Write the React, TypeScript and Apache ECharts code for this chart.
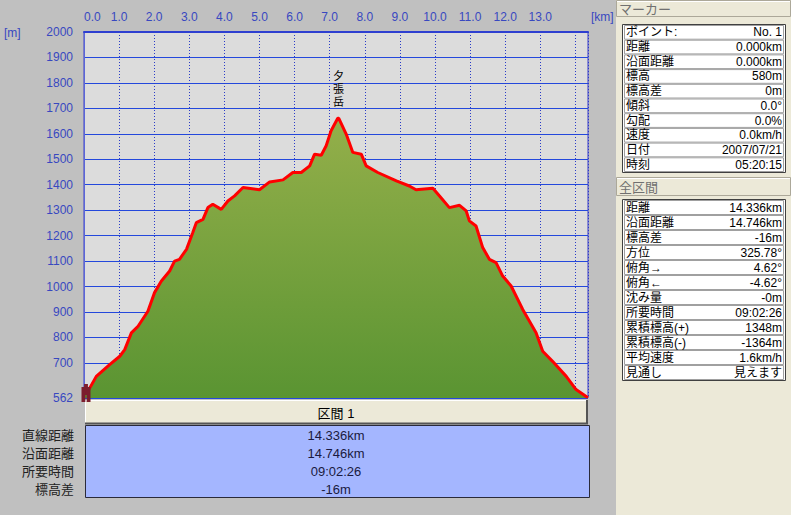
import React, { useEffect, useRef } from 'react';
import * as echarts from 'echarts';

// ---- data ----
const distKm = [0, 0.11, 0.35, 0.73, 1.02, 1.16, 1.35, 1.54, 1.82, 2.01, 2.2, 2.44, 2.58, 2.72, 2.92, 3.1, 3.2, 3.39, 3.53, 3.67, 3.91, 4.1, 4.29, 4.53, 5.0, 5.29, 5.67, 5.95, 6.19, 6.43, 6.57, 6.76, 6.9, 7.04, 7.23, 7.26, 7.47, 7.66, 7.9, 8.04, 8.37, 8.9, 9.27, 9.46, 9.94, 10.13, 10.41, 10.7, 10.89, 10.98, 11.17, 11.36, 11.55, 11.74, 11.93, 12.17, 12.5, 12.88, 13.07, 13.35, 13.74, 14.02, 14.31, 14.36];
const elevM = [580, 588, 647, 693, 726, 752, 818, 844, 903, 976, 1021, 1061, 1100, 1107, 1146, 1212, 1251, 1264, 1310, 1323, 1303, 1336, 1356, 1389, 1380, 1411, 1419, 1448, 1448, 1474, 1520, 1516, 1553, 1612, 1661, 1661, 1599, 1527, 1520, 1474, 1448, 1415, 1395, 1380, 1386, 1356, 1310, 1319, 1297, 1258, 1238, 1153, 1107, 1094, 1041, 1002, 910, 818, 746, 706, 647, 595, 568, 564];
const yTickValues = [562, 700, 800, 900, 1000, 1100, 1200, 1300, 1400, 1500, 1600, 1700, 1800, 1900, 2000];
const xMin = 0;
const xMax = 14.36;
const yMin = 562;
const yMax = 2000;
const xUnit = '[km]';
const yUnit = '[m]';
const peakName = '夕張岳';
const peakKm = 7.25;
const peakElev = 1661;

const markerTitle = 'マーカー';
const markerLabels = ['ポイント:', '距離', '沿面距離', '標高', '標高差', '傾斜', '勾配', '速度', '日付', '時刻'];
const markerValues = ['No. 1', '0.000km', '0.000km', '580m', '0m', '0.0°', '0.0%', '0.0km/h', '2007/07/21', '05:20:15'];

const totalTitle = '全区間';
const totalLabels = ['距離', '沿面距離', '標高差', '方位', '俯角→', '俯角←', '沈み量', '所要時間', '累積標高(+)', '累積標高(-)', '平均速度', '見通し'];
const totalValues = ['14.336km', '14.746km', '-16m', '325.78°', '4.62°', '-4.62°', '-0m', '09:02:26', '1348m', '-1364m', '1.6km/h', '見えます'];

const sectionTitle = '区間 1';
const sectionLabels = ['直線距離', '沿面距離', '所要時間', '標高差'];
const sectionValues = ['14.336km', '14.746km', '09:02:26', '-16m'];

const FONT = "'Liberation Sans', 'Noto Sans CJK JP', sans-serif";

function buildGraphic() {
  const g: any[] = [];
  // right panel background
  g.push({ type: 'rect', shape: { x: 616, y: 0, width: 175, height: 515 }, style: { fill: '#ece9d8' }, z: 1 });

  const tab = (y: number, h: number, title: string) => {
    g.push({ type: 'rect', shape: { x: 616.5, y: y + 0.5, width: 174, height: h }, style: { fill: '#ece9d8', stroke: '#aca899', lineWidth: 1 }, z: 2 });
    g.push({ type: 'line', shape: { x1: 617, y1: y + 1.5, x2: 790, y2: y + 1.5 }, style: { stroke: '#ffffff', lineWidth: 1 }, z: 3 });
    g.push({ type: 'text', x: 619, y: y + h / 2 + 1, style: { text: title, fill: '#707070', font: `13px ${FONT}`, verticalAlign: 'middle', align: 'left' }, z: 4 });
  };

  const table = (y0: number, rowH: number, labels: string[], values: string[]) => {
    const h = rowH * labels.length;
    g.push({ type: 'rect', shape: { x: 622.5, y: y0 + 0.5, width: 163, height: h + 1 }, style: { fill: '#ffffff', stroke: '#404040', lineWidth: 1 }, z: 2 });
    labels.forEach((lab, i) => {
      const y = y0 + i * rowH;
      g.push({ type: 'rect', shape: { x: 624.5, y: y + 1.5, width: 159, height: rowH - 1 }, style: { fill: '#ffffff', stroke: '#a0a0a0', lineWidth: 1 }, z: 3 });
      g.push({ type: 'text', x: 626, y: y + rowH / 2 + 1, style: { text: lab, fill: '#000000', font: `12px ${FONT}`, verticalAlign: 'middle', align: 'left', lineHeight: 12 }, z: 4 });
      g.push({ type: 'text', x: 782, y: y + rowH / 2 + 1, style: { text: values[i], fill: '#000000', font: `12px ${FONT}`, verticalAlign: 'middle', align: 'right', lineHeight: 12 }, z: 4 });
    });
  };

  tab(0, 16, markerTitle);
  table(24, 14.7, markerLabels, markerValues);
  tab(177, 18, totalTitle);
  table(199, 15, totalLabels, totalValues);

  // units
  g.push({ type: 'text', x: 4, y: 33, style: { text: yUnit, fill: '#3848c0', font: `12px ${FONT}`, verticalAlign: 'middle', align: 'left' }, z: 4 });
  g.push({ type: 'text', x: 591, y: 17, style: { text: xUnit, fill: '#3848c0', font: `12px ${FONT}`, verticalAlign: 'middle', align: 'left' }, z: 4 });

  // bottom section header
  g.push({ type: 'rect', shape: { x: 85, y: 400, width: 502, height: 24 }, style: { fill: '#ece9d8' }, z: 2 });
  g.push({ type: 'line', shape: { x1: 85, y1: 400.5, x2: 587, y2: 400.5 }, style: { stroke: '#ffffff', lineWidth: 1 }, z: 3 });
  g.push({ type: 'line', shape: { x1: 85.5, y1: 400, x2: 85.5, y2: 424 }, style: { stroke: '#ffffff', lineWidth: 1 }, z: 3 });
  g.push({ type: 'line', shape: { x1: 85, y1: 423.5, x2: 588, y2: 423.5 }, style: { stroke: '#555555', lineWidth: 2 }, z: 3 });
  g.push({ type: 'line', shape: { x1: 587, y1: 400, x2: 587, y2: 424 }, style: { stroke: '#555555', lineWidth: 2 }, z: 3 });
  g.push({ type: 'text', x: 336, y: 413, style: { text: sectionTitle, fill: '#000000', font: `13px ${FONT}`, verticalAlign: 'middle', align: 'center' }, z: 4 });

  // bottom blue table
  g.push({ type: 'rect', shape: { x: 85.5, y: 425.5, width: 504, height: 72 }, style: { fill: '#a4b6ff', stroke: '#2a2a3a', lineWidth: 1 }, z: 2 });
  sectionLabels.forEach((lab, i) => {
    const y = 435 + i * 18;
    g.push({ type: 'text', x: 74, y, style: { text: lab, fill: '#222222', font: `13px ${FONT}`, verticalAlign: 'middle', align: 'right', lineHeight: 14 }, z: 4 });
    g.push({ type: 'text', x: 336, y, style: { text: sectionValues[i], fill: '#1a1a40', font: `13px ${FONT}`, verticalAlign: 'middle', align: 'center', lineHeight: 14 }, z: 4 });
  });
  return g;
}

export default function App() {
  const ref = useRef<HTMLDivElement>(null);
  useEffect(() => {
    if (!ref.current) return;
    const chart = echarts.init(ref.current, null, { renderer: 'svg' });
    const option: any = {
      animation: false,
      backgroundColor: '#c0c0c0',
      textStyle: { fontFamily: FONT },
      grid: {
        left: 84, top: 32, width: 504, height: 366,
        show: true, backgroundColor: '#dcdcdc', borderColor: '#3a3acc', borderWidth: 1,
        containLabel: false, outerBoundsMode: 'none',
      },
      xAxis: {
        type: 'value', position: 'top', min: xMin, max: xMax, interval: 1,
        axisLine: { show: true, lineStyle: { color: '#2e3fd0', width: 2 } },
        axisTick: { show: false },
        axisLabel: {
          color: '#3848c0', fontSize: 12, margin: 9, alignMinLabel: 'left', showMaxLabel: false, fontFamily: FONT,
          formatter: (v: number) => (Math.abs(v - Math.round(v)) < 1e-6 && v < 13.5 ? v.toFixed(1) : ''),
        },
        splitLine: { show: true, lineStyle: { color: '#2a3cc8', type: [1, 2], width: 1 } },
      },
      yAxis: {
        type: 'value', min: yMin, max: yMax,
        axisLine: { show: true, lineStyle: { color: '#5a66d8', width: 1 } },
        axisTick: { show: false, customValues: yTickValues },
        axisLabel: { customValues: yTickValues, color: '#3848c0', fontSize: 12, margin: 11, fontFamily: FONT, formatter: (v: number) => String(Math.round(v)) },
        splitLine: { show: true, lineStyle: { color: '#2448dc', width: 1 } },
      },
      series: [{
        type: 'line',
        data: distKm.map((d, i) => [d, elevM[i]]),
        symbol: 'none',
        lineStyle: { color: '#ff0000', width: 3 },
        areaStyle: {
          opacity: 1,
          color: new echarts.graphic.LinearGradient(0, 0, 0, 1, [
            { offset: 0, color: '#94af4a' },
            { offset: 1, color: '#5a9432' },
          ]),
        },
        markPoint: {
          data: [
            {
              coord: [peakKm, peakElev], symbol: 'circle', symbolSize: 1,
              itemStyle: { color: 'rgba(0,0,0,0)' },
              label: { show: true, position: 'top', distance: 9, formatter: peakName.split('').join('\n'), color: '#000000', fontSize: 11, lineHeight: 13, fontFamily: FONT },
            },
            {
              coord: [xMin, yMin],
              symbol: 'path://M3,0h3v3h-3z M1,3h7v8h-7z M1,11h3v7h-3z M5,11h3v7h-3z',
              symbolSize: [9, 18], symbolOffset: [2, -5],
              itemStyle: { color: '#7b1d2d' },
              label: { show: false },
            },
          ],
        },
      }],
      graphic: buildGraphic(),
    };
    chart.setOption(option);
    return () => chart.dispose();
  }, []);
  return <div ref={ref} style={{ position: 'fixed', left: 0, top: 0, width: 791, height: 515 }} />;
}
